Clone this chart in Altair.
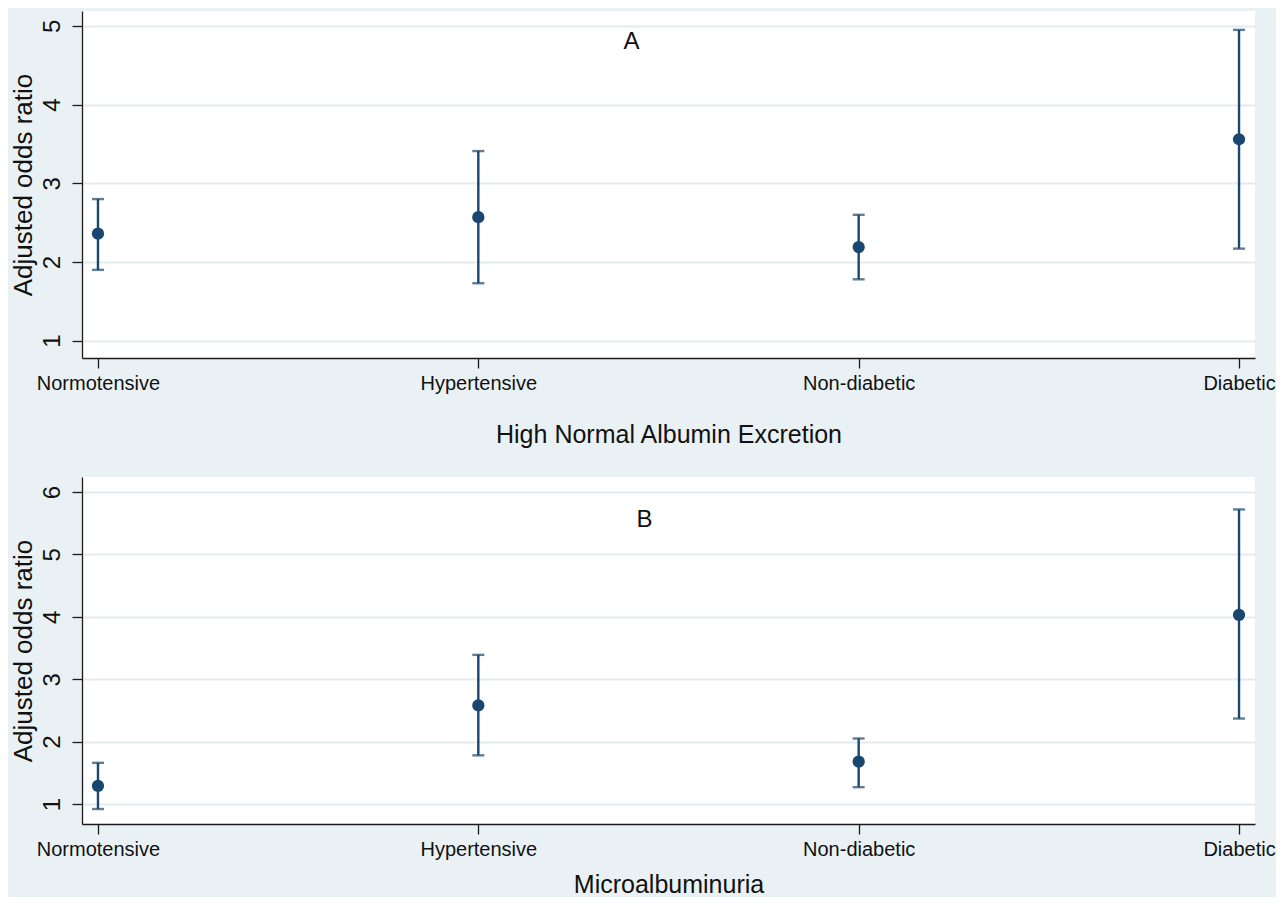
import altair as alt
import pandas as pd

groups = ["Normotensive", "Hypertensive", "Non-diabetic", "Diabetic"]

# Panel A: High Normal Albumin Excretion
a_or = [2.36, 2.57, 2.19, 3.56]
a_lo = [1.90, 1.73, 1.78, 2.17]
a_hi = [2.80, 3.41, 2.60, 4.95]

# Panel B: Microalbuminuria
b_or = [1.29, 2.58, 1.68, 4.03]
b_lo = [0.92, 1.78, 1.27, 2.37]
b_hi = [1.66, 3.39, 2.05, 5.72]

x_titles = ["High Normal Albumin Excretion", "Microalbuminuria"]
panel_labels = ["A", "B"]
y_title = "Adjusted odds ratio"
a_ticks = [1, 2, 3, 4, 5]
b_ticks = [1, 2, 3, 4, 5, 6]
a_domain = [0.78, 5.19]
b_domain = [0.68, 6.24]

NAVY = "#1a476f"
FONT = "Liberation Sans"
INK = "#111111"


def panel(orr, lo, hi, ticks, domain, xtitle, label, label_dx, label_off, x_title_pad):
    df = pd.DataFrame({"group": groups, "or": orr, "lo": lo, "hi": hi})
    x = alt.X(
        "group:N",
        sort=groups,
        scale=alt.Scale(type="point", padding=0.042),
        axis=alt.Axis(title=xtitle, labelAngle=0, titlePadding=x_title_pad),
    )
    yscale = alt.Scale(domain=domain, nice=False, zero=False)
    yaxis = alt.Axis(values=ticks, title=y_title)
    base = alt.Chart(df)
    rule = base.mark_rule(color=NAVY, strokeWidth=2.4).encode(
        x=x, y=alt.Y("lo:Q", scale=yscale, axis=yaxis), y2="hi:Q"
    )
    cap_lo = base.mark_tick(color=NAVY, thickness=2.4, size=12).encode(
        x=x, y=alt.Y("lo:Q", scale=yscale, axis=yaxis)
    )
    cap_hi = base.mark_tick(color=NAVY, thickness=2.4, size=12).encode(
        x=x, y=alt.Y("hi:Q", scale=yscale, axis=yaxis)
    )
    pts = base.mark_circle(color=NAVY, size=150, opacity=1).encode(
        x=x, y=alt.Y("or:Q", scale=yscale, axis=yaxis)
    )
    return alt.layer(rule, cap_lo, cap_hi, pts).properties(
        width=1173,
        height=347,
        title=alt.TitleParams(
            text=label,
            anchor="middle",
            dx=label_dx,
            offset=label_off,
            fontSize=24,
            font=FONT,
            fontWeight="normal",
            color=INK,
        ),
    )


pa = panel(a_or, a_lo, a_hi, a_ticks, a_domain, x_titles[0], panel_labels[0], -37, -43, 29)
pb = panel(b_or, b_lo, b_hi, b_ticks, b_domain, x_titles[1], panel_labels[1], -24, -55, 13)

chart = (
    alt.vconcat(pa, pb, spacing=119, bounds="flush")
    .properties(
        background="#eaf1f4",
        padding={"left": 1, "top": 3, "right": 0, "bottom": 0},
    )
    .configure_view(fill="white", stroke=None)
    .configure_axis(
        domainColor="#1a1a1a",
        domainWidth=1.3,
        tickColor="#1a1a1a",
        tickWidth=1.3,
        tickSize=10,
        labelFont=FONT,
        labelColor=INK,
        titleFont=FONT,
        titleFontWeight="normal",
        titleColor=INK,
        gridColor="#e3ebee",
        gridWidth=1.8,
    )
    .configure_axisX(grid=False, labelFontSize=20, labelPadding=5, titleFontSize=25)
    .configure_axisY(
        grid=True,
        labelFontSize=24,
        labelAngle=270,
        labelAlign="center",
        labelBaseline="bottom",
        labelPadding=8,
        titlePadding=4,
        titleFontSize=26,
    )
)

chart.save("out.html", embed_options={"renderer": "svg", "actions": False})
